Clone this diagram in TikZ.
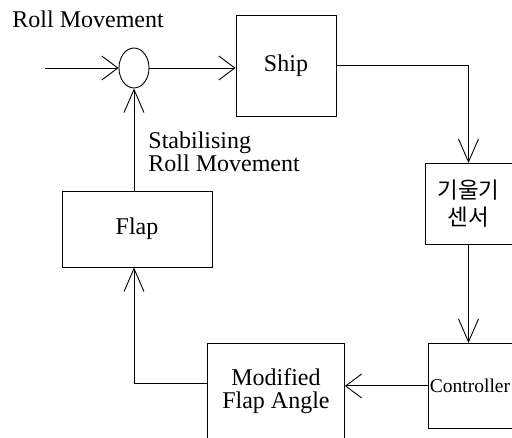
\documentclass[tikz,border=0pt]{standalone}
\usepackage{fontspec}
\setmainfont{Liberation Serif}
\newfontfamily\krfont{Noto Sans CJK KR}
\usetikzlibrary{arrows.meta,shapes.geometric}
\begin{document}
\begin{tikzpicture}[x=1pt,y=-1pt, line width=0.9pt,
  box/.style={draw, rectangle, inner sep=0pt, font=\fontsize{24}{23}\selectfont, align=center},
  harr/.style={-{Straight Barb[length=16pt,width=24pt]}},
  varr/.style={-{Straight Barb[length=23pt,width=20pt]}},
  lbl/.style={font=\fontsize{24}{23}\selectfont, inner sep=0pt, align=left}]
\clip (0,0) rectangle (512,438);
\node[lbl, anchor=base west] (rolltxt) at (12,28) {Roll Movement};
\node[draw, ellipse, minimum width=30pt, minimum height=40pt, inner sep=0pt] (sum) at (134,68) {};
\coordinate (in) at (45,68);
\node[box, minimum width=100pt, minimum height=101pt] (ship) at (286,65.5) {Ship};
\node[box, minimum width=87pt, minimum height=81pt, font=\krfont\fontsize{22.5}{27}\selectfont] (sensor) at (468.5,204) {기울기\\센서};
\node[box, anchor=north west, minimum height=85pt, text width=110pt, align=left, inner xsep=1.5pt, font=\fontsize{19.5}{23}\selectfont] (ctrl) at (428,343) {Controller};
\node[box, anchor=north west, minimum width=137pt, minimum height=96pt] (mod) at (207,343) {Modified\\Flap Angle};
\node[box, minimum width=150pt, minimum height=76pt] (flap) at (137,229) {Flap};
\node[lbl, anchor=north west] (stab) at (148,131) {Stabilising\\Roll Movement};
\draw[harr] (in) -- (sum.west);
\draw[harr] (sum.east) -- (sum.east -| ship.west);
\draw[varr] (ship.east) -| (sensor.north);
\draw[varr] (sensor.south) -- (sensor.south |- ctrl.north);
\draw[harr] (ctrl.west) -- (ctrl.west -| mod.east);
\draw[varr] ([yshift=8pt]mod.west) -| (flap.south -| sum.south);
\draw[varr] (flap.north -| sum.south) -- (sum.south);
\end{tikzpicture}
\end{document}
